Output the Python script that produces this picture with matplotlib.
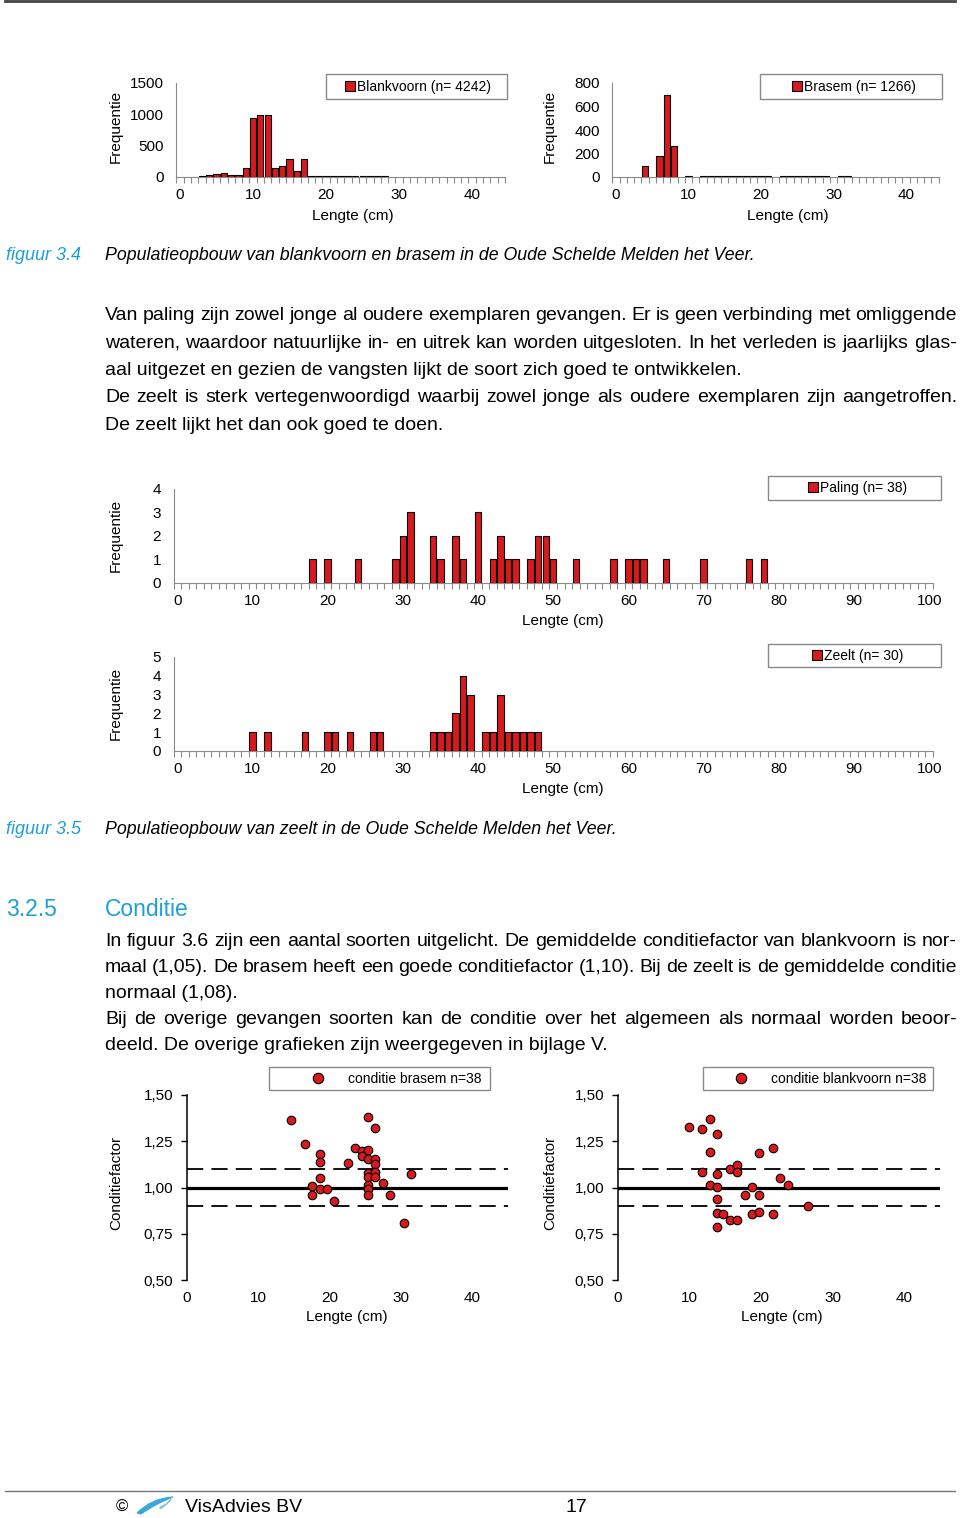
import numpy as np
import matplotlib
matplotlib.use("Agg")
import matplotlib.pyplot as plt
from matplotlib.patches import Rectangle, PathPatch
from matplotlib.path import Path
from matplotlib.lines import Line2D

plt.rcParams['font.family'] = ['Liberation Sans', 'DejaVu Sans']

W, H = 960, 1518
RED = '#d81a1f'
CYAN = '#1e9fd8'

# lengte-frequentie blankvoorn (figuur 3.4 links)
blank_len = list(range(3, 29))
blank_freq = [10, 27, 53, 64, 32, 32, 150, 945, 985, 995, 150, 170, 295, 96, 295,
              12, 10, 10, 10, 10, 10, 10, 10, 10, 10, 10]

# lengte-frequentie brasem (figuur 3.4 rechts)
brasem_len = [4, 6, 7, 8, 10, 12, 13, 14, 15, 16, 17, 18, 19, 20, 21,
              23, 24, 25, 26, 27, 28, 29, 31, 32]
brasem_freq = [91, 177, 694, 266, 6, 5, 5, 8, 5, 5, 5, 5, 8, 5, 5,
               5, 5, 5, 6, 8, 5, 5, 5, 5]

# paling en zeelt (figuur 3.5)
paling_len = [18, 20, 24, 29, 30, 31, 34, 35, 37, 38, 40, 42, 43, 44, 45,
              47, 48, 49, 50, 53, 58, 60, 61, 62, 65, 70, 76, 78]
paling_freq = [1, 1, 1, 1, 2, 3, 2, 1, 2, 1, 3, 1, 2, 1, 1,
               1, 2, 2, 1, 1, 1, 1, 1, 1, 1, 1, 1, 1]
zeelt_len = [10, 12, 17, 20, 21, 23, 26, 27, 34, 35, 36, 37, 38, 39, 41, 42,
             43, 44, 45, 46, 47, 48]
zeelt_freq = [1, 1, 1, 1, 1, 1, 1, 1, 1, 1, 1, 2, 4, 3, 1, 1,
              3, 1, 1, 1, 1, 1]

# conditiefactor (figuur 3.6)
cb_len = [14.6, 16.6, 18.6, 18.6, 18.6, 17.5, 17.5, 18.6, 19.6, 20.6, 22.6, 23.6,
          24.6, 24.6, 25.4, 25.4, 25.4, 25.4, 25.4, 25.4, 25.4, 25.4, 26.4, 26.4,
          26.4, 26.4, 26.4, 27.5, 28.4, 30.4, 31.4]
cb_k = [1.365, 1.233, 1.179, 1.14, 1.053, 1.008, 0.959, 0.99, 0.99, 0.927, 1.131, 1.215,
        1.197, 1.17, 1.383, 1.203, 1.152, 1.077, 1.058, 1.014, 0.99, 0.959, 1.32, 1.152,
        1.127, 1.086, 1.055, 1.026, 0.959, 0.81, 1.075]
cv_len = [9.9, 11.8, 12.9, 13.9, 12.9, 11.8, 13.9, 12.9, 13.9, 13.9, 13.9, 14.7, 13.9,
          15.7, 16.7, 15.7, 16.7, 16.7, 17.7, 18.7, 18.7, 19.7, 19.7, 19.7, 21.7, 21.7,
          22.7, 23.7, 26.6]
cv_k = [1.325, 1.316, 1.37, 1.287, 1.194, 1.084, 1.075, 1.014, 1.005, 0.936, 0.864, 0.857,
        0.788, 0.824, 0.824, 1.099, 1.122, 1.084, 0.959, 1.005, 0.857, 1.185, 0.959, 0.868,
        1.215, 0.857, 1.05, 1.014, 0.902]

k_ticks = [0.50, 0.75, 1.00, 1.25, 1.50]
k_ticklabels = ['0,50', '0,75', '1,00', '1,25', '1,50']

fig = plt.figure(figsize=(W / 100, H / 100), dpi=100)


def fx(x):
    return x / W


def fy(y):
    return 1 - y / H


def add_ax(l, t, r, b):
    return fig.add_axes([fx(l), fy(b), (r - l) / W, (b - t) / H])


def box(l, t, r, b):
    fig.add_artist(Rectangle((fx(l), fy(b)), (r - l) / W, (b - t) / H,
                             transform=fig.transFigure, fill=False,
                             edgecolor='#8a8a8a', lw=1))


def hist(ax, x, y, xmax, ymax, yticks, label, leg_x, leg_y):
    bars = ax.bar(x, y, width=0.85, color=RED, edgecolor='black', linewidth=0.8,
                  label=label, zorder=3)
    ax.set_xlim(-0.5, xmax + 0.5)
    ax.set_ylim(0, ymax)
    for s in ['top', 'right']:
        ax.spines[s].set_visible(False)
    for s in ['left', 'bottom']:
        ax.spines[s].set_color('#8a8a8a')
    ax.set_xticks(np.arange(0, xmax + 1, 10))
    ax.set_xticks(np.arange(-0.5, xmax + 1, 1), minor=True)
    ax.tick_params(axis='x', which='major', length=0, pad=8, labelsize=11)
    ax.tick_params(axis='x', which='minor', length=4, color='#8a8a8a', width=0.8)
    ax.set_yticks(yticks)
    ax.tick_params(axis='y', length=0, pad=9, labelsize=11)
    ax.patch.set_visible(False)
    ax.legend([bars], [label], loc='center left', bbox_to_anchor=(fx(leg_x), fy(leg_y)),
              bbox_transform=fig.transFigure, frameon=False, fontsize=10,
              handlelength=0.7, handleheight=0.7, handletextpad=0.15,
              borderpad=0, borderaxespad=0)


def conditie(ax, x, k, label, leg_x, leg_y):
    ax.axhline(1.10, color='black', lw=1.3, dashes=(9, 4.5), zorder=1)
    ax.axhline(0.90, color='black', lw=1.3, dashes=(9, 4.5), zorder=1)
    ax.axhline(1.00, color='black', lw=2.3, zorder=1)
    ax.scatter(x, k, s=38, color=RED, edgecolor='black', linewidth=0.8, zorder=3)
    ax.set_xlim(0, 45)
    ax.set_ylim(0.5, 1.5)
    for s in ['top', 'right', 'bottom']:
        ax.spines[s].set_visible(False)
    ax.spines['left'].set_linewidth(1.1)
    ax.set_xticks([0, 10, 20, 30, 40])
    ax.tick_params(axis='x', length=0, pad=8, labelsize=11)
    ax.set_yticks(k_ticks)
    ax.set_yticklabels(k_ticklabels)
    ax.tick_params(axis='y', length=4, width=1, pad=6, labelsize=11)
    ax.patch.set_visible(False)
    h = Line2D([], [], ls='none', marker='o', markersize=7.5, markerfacecolor=RED,
               markeredgecolor='black', markeredgewidth=0.8)
    ax.legend([h], [label], loc='center left', bbox_to_anchor=(fx(leg_x), fy(leg_y)),
              bbox_transform=fig.transFigure, frameon=False, fontsize=10,
              handlelength=1.0, handletextpad=1.65, borderpad=0, borderaxespad=0)


# figuur 3.4
ax1 = add_ax(176.4, 83, 505, 177)
hist(ax1, blank_len, blank_freq, 44, 1500, [0, 500, 1000, 1500],
     'Blankvoorn (n= 4242)', 345, 87)
box(326, 74, 507, 99)
ax2 = add_ax(612.4, 83, 938.6, 177)
hist(ax2, brasem_len, brasem_freq, 44, 800, [0, 200, 400, 600, 800],
     'Brasem (n= 1266)', 792, 87)
box(760, 74, 942, 99)

# figuur 3.5
ax3 = add_ax(173.5, 489, 933, 583)
hist(ax3, paling_len, paling_freq, 100, 4, [0, 1, 2, 3, 4], 'Paling (n= 38)', 808, 488)
box(768, 476, 941, 500)
ax4 = add_ax(173.5, 657, 933, 751)
hist(ax4, zeelt_len, zeelt_freq, 100, 5, [0, 1, 2, 3, 4, 5], 'Zeelt (n= 30)', 812, 656)
box(768, 644, 941, 667)

# figuur 3.6
ax5 = add_ax(187, 1095, 508, 1280)
conditie(ax5, cb_len, cb_k, 'conditie brasem n=38', 311, 1079)
box(269, 1067, 490, 1090)
ax6 = add_ax(618, 1095, 940, 1280)
conditie(ax6, cv_len, cv_k, 'conditie blankvoorn n=38', 734, 1079)
box(703, 1067, 933, 1090)

# as-titels
for x, y, t in [(116, 126, 'Frequentie'), (550, 126, 'Frequentie'),
                (116, 535, 'Frequentie'), (116, 703, 'Frequentie'),
                (116, 1183, 'Conditiefactor'), (550, 1183, 'Conditiefactor')]:
    fig.text(fx(x), fy(y), t, rotation=90, ha='center', va='center', fontsize=11)
for x, y in [(353, 216), (788, 216), (563, 621), (563, 789), (347, 1317), (782, 1317)]:
    fig.text(fx(x), fy(y), 'Lengte (cm)', ha='center', va='center', fontsize=11)

# paginatekst
renderer = fig.canvas.get_renderer()
BODY = 14


def put_line(text, y, justify, x0=105, x1=957, size=BODY):
    if not justify:
        fig.text(fx(x0), fy(y), text, fontsize=size, va='baseline')
        return
    words = text.split(' ')
    arts = [fig.text(0, fy(y), w, fontsize=size, va='baseline') for w in words]
    widths = [a.get_window_extent(renderer).width for a in arts]
    gap = (x1 - x0 - sum(widths)) / (len(words) - 1)
    x = x0
    for a, w in zip(arts, widths):
        a.set_x(fx(x))
        x += w + gap


block1 = [
    ("Van paling zijn zowel jonge al oudere exemplaren gevangen. Er is geen verbinding met omliggende", True),
    ("wateren, waardoor natuurlijke in- en uitrek kan worden uitgesloten. In het verleden is jaarlijks glas-", True),
    ("aal uitgezet en gezien de vangsten lijkt de soort zich goed te ontwikkelen.", False),
    ("De zeelt is sterk vertegenwoordigd waarbij zowel jonge als oudere exemplaren zijn aangetroffen.", True),
    ("De zeelt lijkt het dan ook goed te doen.", False),
]
for i, (t, j) in enumerate(block1):
    put_line(t, 320 + i * 27.5, j)

block2 = [
    ("In figuur 3.6 zijn een aantal soorten uitgelicht. De gemiddelde conditiefactor van blankvoorn is nor-", True),
    ("maal (1,05). De brasem heeft een goede conditiefactor (1,10). Bij de zeelt is de gemiddelde conditie", True),
    ("normaal (1,08).", False),
    ("Bij de overige gevangen soorten kan de conditie over het algemeen als normaal worden beoor-", True),
    ("deeld. De overige grafieken zijn weergegeven in bijlage V.", False),
]
for i, (t, j) in enumerate(block2):
    put_line(t, 946 + i * 26, j)

# bijschriften
for y, t in [(256, 'figuur 3.4'), (830, 'figuur 3.5')]:
    fig.text(fx(6), fy(y), t, fontsize=13, style='italic', color=CYAN, va='center')
fig.text(fx(105), fy(256), 'Populatieopbouw van blankvoorn en brasem in de Oude Schelde Melden het Veer.',
         fontsize=12.8, style='italic', va='center')
fig.text(fx(105), fy(830), 'Populatieopbouw van zeelt in de Oude Schelde Melden het Veer.',
         fontsize=12.8, style='italic', va='center')

fig.text(fx(6), fy(909), '3.2.5', fontsize=16.5, color=CYAN, va='center')
fig.text(fx(105), fy(909), 'Conditie', fontsize=16.5, color=CYAN, va='center')

# kop- en voetlijn
fig.add_artist(Line2D([fx(5), fx(955)], [fy(1), fy(1)], color='#444444', lw=2))
fig.add_artist(Line2D([fx(5), fx(955)], [fy(1491), fy(1491)], color='#777777', lw=1))
fig.text(fx(122), fy(1507), '©', fontsize=12, ha='center', va='center')
logo = Path([(fx(137), fy(1513)), (fx(152), fy(1498)), (fx(173), fy(1497)),
             (fx(157), fy(1503)), (fx(141), fy(1514)), (fx(137), fy(1513))],
            [Path.MOVETO, Path.CURVE3, Path.CURVE3, Path.CURVE3, Path.CURVE3, Path.CLOSEPOLY])
fig.add_artist(PathPatch(logo, transform=fig.transFigure, facecolor='#3aa6de',
                         edgecolor='#3aa6de', lw=0.8))
logo2 = Path([(fx(160), fy(1507)), (fx(168), fy(1504)), (fx(171), fy(1499)),
              (fx(167), fy(1505)), (fx(160), fy(1509)), (fx(160), fy(1507))],
             [Path.MOVETO, Path.CURVE3, Path.CURVE3, Path.CURVE3, Path.CURVE3, Path.CLOSEPOLY])
fig.add_artist(PathPatch(logo2, transform=fig.transFigure, facecolor='#7cc4ea',
                         edgecolor='#7cc4ea', lw=0.8))
fig.text(fx(185), fy(1507), 'VisAdvies BV', fontsize=14, va='center')
fig.text(fx(576), fy(1507), '17', fontsize=14, ha='center', va='center')

fig.savefig('out.png', dpi=100)
